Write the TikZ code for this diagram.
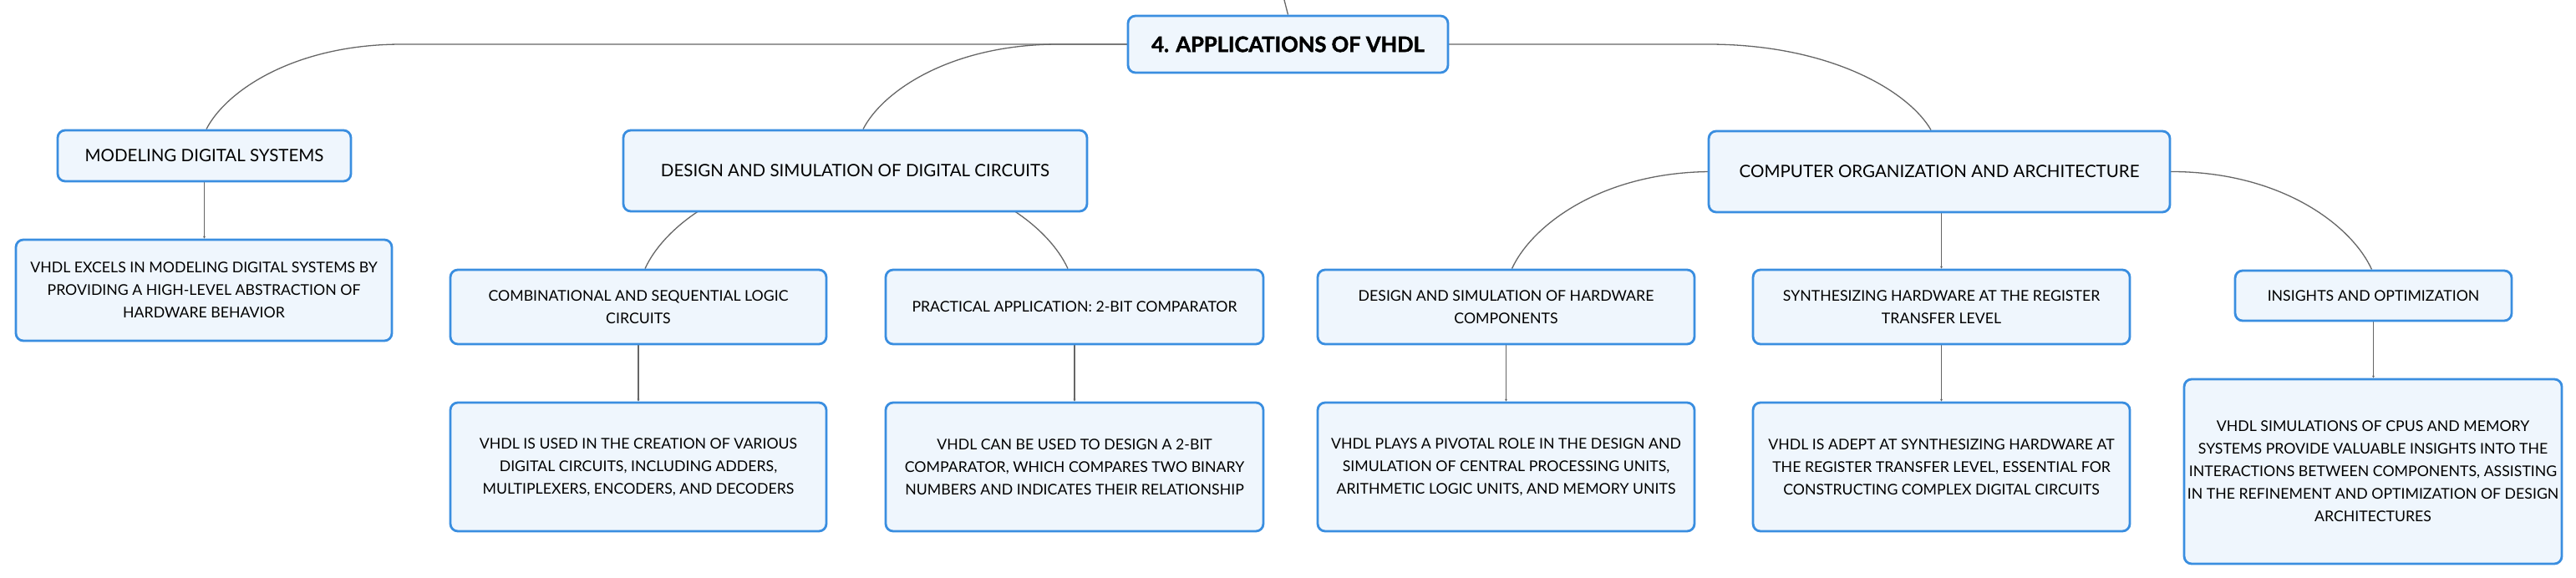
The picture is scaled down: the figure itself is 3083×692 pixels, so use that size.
\documentclass[tikz,border=0pt]{standalone}
\usepackage{fontspec}
\setmainfont{Lato}
\newfontfamily\heavyfont{Lato}[BoldFeatures={FakeBold=1.8}]
\usetikzlibrary{calc,arrows.meta}
\definecolor{boxblue}{HTML}{3A8EE0}
\definecolor{boxfill}{HTML}{EFF6FD}
\definecolor{linegray}{HTML}{666666}
\pgfdeclarelayer{bg}
\pgfsetlayers{bg,main}
\newcommand{\curvelink}[4]{%
  \draw[conn] let \p1=(#1.center), \p2=($(#2.north)+(#3,0)$) in
    (\p1) -- (\x2+#4,\y1)
    .. controls (\x2+0.45*#4,\y1) and (\x2+0.1*#4,{\y2+0.45*(\y1-\y2)}) .. (\p2);}
\begin{document}
\begin{tikzpicture}[x=1pt,y=-1pt,
  box/.style={draw=boxblue, line width=2.8pt, fill=boxfill, rounded corners=9pt,
    align=center, inner sep=0pt, text=black, anchor=center},
  rootbox/.style={box, font=\heavyfont\fontsize{25.5}{28}\selectfont\bfseries},
  lvlone/.style={box, font=\fontsize{20.5}{27}\selectfont},
  lvltwo/.style={box, font=\fontsize{17.7}{27}\selectfont},
  conn/.style={draw=linegray, line width=1.3pt},
  vconn/.style={conn, -{Stealth[length=3pt,width=3pt]}}]
\useasboundingbox (0,0) rectangle (3083,692);
% nodes
\node[rootbox, minimum width=383, minimum height=68] (root) at (1541.5,53) {4. APPLICATIONS OF VHDL};
\node[lvlone, minimum width=351, minimum height=61] (mod) at (244.5,186.5) {MODELING DIGITAL SYSTEMS};
\node[lvltwo, minimum width=450, minimum height=121] (moddet) at (244,347.5) {VHDL EXCELS IN MODELING DIGITAL SYSTEMS BY\\PROVIDING A HIGH-LEVEL ABSTRACTION OF\\HARDWARE BEHAVIOR};
\node[lvlone, minimum width=555, minimum height=97] (des) at (1023.5,204.5) {DESIGN AND SIMULATION OF DIGITAL CIRCUITS};
\node[lvltwo, minimum width=450, minimum height=89] (comb) at (764,367.5) {COMBINATIONAL AND SEQUENTIAL LOGIC\\CIRCUITS};
\node[lvltwo, minimum width=452, minimum height=89] (prac) at (1286,367.5) {PRACTICAL APPLICATION: 2-BIT COMPARATOR};
\node[lvltwo, minimum width=450, minimum height=154] (combdet) at (764,559) {VHDL IS USED IN THE CREATION OF VARIOUS\\DIGITAL CIRCUITS, INCLUDING ADDERS,\\MULTIPLEXERS, ENCODERS, AND DECODERS};
\node[lvltwo, minimum width=452, minimum height=154] (pracdet) at (1286,559) {VHDL CAN BE USED TO DESIGN A 2-BIT\\COMPARATOR, WHICH COMPARES TWO BINARY\\NUMBERS AND INDICATES THEIR RELATIONSHIP};
\node[lvlone, minimum width=552, minimum height=97] (coa) at (2321,205.5) {COMPUTER ORGANIZATION AND ARCHITECTURE};
\node[lvltwo, minimum width=451, minimum height=89] (hw) at (1802.5,367.5) {DESIGN AND SIMULATION OF HARDWARE\\COMPONENTS};
\node[lvltwo, minimum width=451, minimum height=154] (hwdet) at (1802.5,559) {VHDL PLAYS A PIVOTAL ROLE IN THE DESIGN AND\\SIMULATION OF CENTRAL PROCESSING UNITS,\\ARITHMETIC LOGIC UNITS, AND MEMORY UNITS};
\node[lvltwo, minimum width=451, minimum height=89] (syn) at (2323.5,367.5) {SYNTHESIZING HARDWARE AT THE REGISTER\\TRANSFER LEVEL};
\node[lvltwo, minimum width=451, minimum height=154] (syndet) at (2323.5,559) {VHDL IS ADEPT AT SYNTHESIZING HARDWARE AT\\THE REGISTER TRANSFER LEVEL, ESSENTIAL FOR\\CONSTRUCTING COMPLEX DIGITAL CIRCUITS};
\node[lvltwo, minimum width=331, minimum height=60] (ins) at (2840.5,354) {INSIGHTS AND OPTIMIZATION};
\node[lvltwo, minimum width=452, minimum height=221] (insdet) at (2840,564.5) {VHDL SIMULATIONS OF CPUS AND MEMORY\\SYSTEMS PROVIDE VALUABLE INSIGHTS INTO THE\\INTERACTIONS BETWEEN COMPONENTS, ASSISTING\\IN THE REFINEMENT AND OPTIMIZATION OF DESIGN\\ARCHITECTURES};
\coordinate (topend) at (1537,0);
% connectors
\begin{pgfonlayer}{bg}
\fill[white] (0,0) rectangle (3083,692);
\draw[conn] (root.north) -- (topend);
\curvelink{root}{mod}{2.5}{234}
\curvelink{root}{des}{9.5}{234}
\curvelink{root}{coa}{-10}{-267}
\curvelink{des}{comb}{8}{240}
\curvelink{des}{prac}{-8}{-240}
\curvelink{coa}{hw}{7}{240}
\curvelink{coa}{ins}{-2}{-240}
\draw[vconn] (mod.south) -- (moddet.north -| mod.south);
\draw[vconn] (comb.south) -- (combdet.north);
\draw[vconn] (prac.south) -- (pracdet.north);
\draw[vconn] (hw.south) -- (hwdet.north);
\draw[vconn] (syn.north |- coa.south) -- (syn.north);
\draw[vconn] (syn.south) -- (syndet.north);
\draw[vconn] (ins.south) -- (insdet.north -| ins.south);
\end{pgfonlayer}
\end{tikzpicture}
\end{document}
